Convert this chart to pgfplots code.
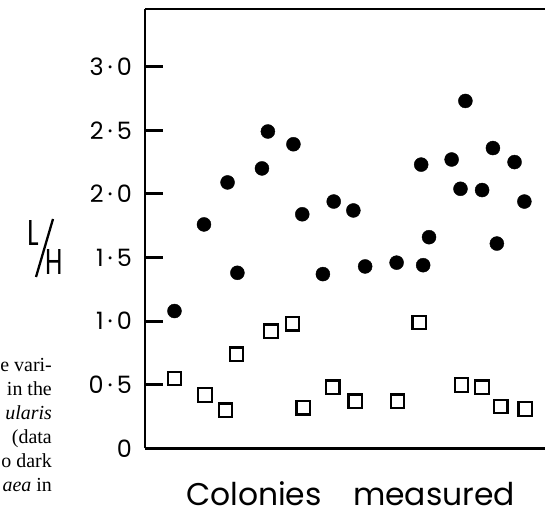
\documentclass[border=0pt]{standalone}
\usepackage{pgfplots}
\pgfplotsset{compat=1.18}
\usepackage{fontspec}
\setmainfont{Liberation Serif}
\newfontfamily\gfont{Poppins}
\begin{document}
\begin{tikzpicture}[x=1bp,y=1bp]
\path[use as bounding box] (0,0) rectangle (545,519);
\begin{axis}[
  at={(145bp,70.5bp)}, anchor=south west,
  scale only axis, width=400bp, height=439.5bp,
  xmin=145, xmax=552, ymin=0, ymax=3.4525,
  axis x line=box, axis y line=left,
  axis line style={-, line width=2.8bp, black},
  xtick=\empty,
  ytick={0,0.5,1,1.5,2,2.5,3},
  yticklabels={0, 0\,·\,5, 1\,·\,0, 1\,·\,5, 2\,·\,0, 2\,·\,5, 3\,·\,0},
  yticklabel style={font=\gfont\fontsize{24}{24}\selectfont, inner sep=0pt, xshift=-13bp},
  ytick pos=left, tick align=inside,
  major tick length=18bp,
  tick style={line width=2.8bp, black},
  clip=false,
]
\addplot[only marks, mark=*, mark size=7bp, black] coordinates {
(175,1.08) (205,1.76) (229,2.09) (239,1.38) (264,2.20) (270,2.49)
(296,2.39) (305,1.84) (326,1.37) (337,1.94) (357,1.87) (369,1.43)
(401,1.46) (426,2.23) (428,1.44) (434,1.66) (457,2.27) (471,2.73)
(466,2.04) (488,2.03) (499,2.36) (503,1.61) (521,2.25) (531,1.94)
};
\addplot[only marks, mark=square, mark size=6.8bp, black, line width=2.2bp, mark options={fill=white}] coordinates {
(175,0.55) (206,0.42) (227,0.30) (238,0.74) (273,0.92) (295,0.98)
(306,0.32) (336,0.48) (359,0.37) (402,0.37) (424,0.99) (467,0.50)
(488,0.48) (507,0.33) (532,0.31)
};
\end{axis}
\node[anchor=base, inner sep=0pt, font=\gfont\fontsize{31.5}{31.5}\selectfont] at (350.5,13) {Colonies\quad measured};
\node[anchor=base west, inner sep=0pt, font=\gfont\fontsize{36}{36}\selectfont] at (27,273) {\scalebox{0.75}[1]{L}};
\node[anchor=base east, inner sep=0pt, font=\gfont\fontsize{36}{36}\selectfont] at (63,244) {\scalebox{0.7}[1]{H}};
\draw[line width=2.3bp] (36,242) -- (53,300);
\begin{scope}[every node/.style={anchor=base east, inner sep=0pt, font=\fontsize{20}{24}\selectfont}]
\node at (52,147) {e vari-};
\node at (52,123) {in the};
\node at (52,99) {\textit{ularis}};
\node at (52,75) {(data};
\node at (52,51) {o dark};
\node at (52,27) {\textit{aea} in};
\end{scope}
\end{tikzpicture}
\end{document}
